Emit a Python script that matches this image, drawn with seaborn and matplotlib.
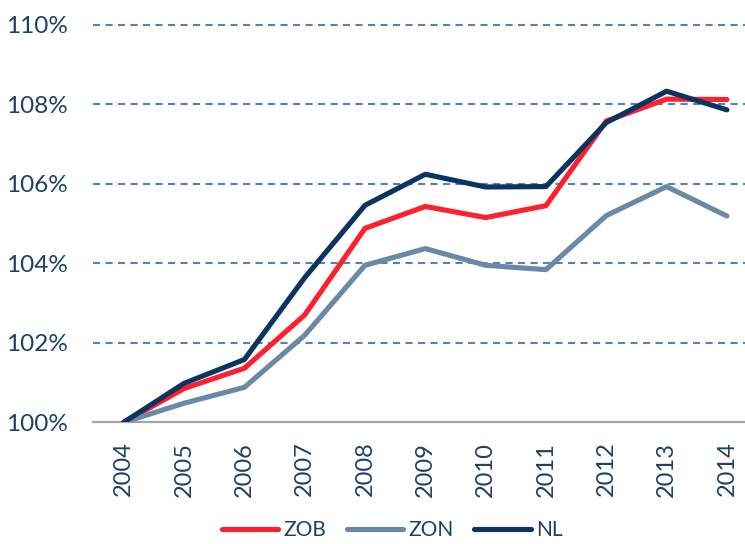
import matplotlib
matplotlib.use("Agg")
import matplotlib.pyplot as plt
import seaborn as sns
import pandas as pd
from matplotlib.ticker import FuncFormatter

years = [str(y) for y in range(2004, 2015)]
zob = [100.0, 100.85, 101.36, 102.7, 104.88, 105.43, 105.15, 105.45, 107.58, 108.13, 108.12]
zon = [100.0, 100.48, 100.88, 102.19, 103.95, 104.37, 103.95, 103.84, 105.2, 105.93, 105.19]
nl = [100.0, 100.98, 101.58, 103.64, 105.46, 106.24, 105.92, 105.93, 107.54, 108.33, 107.86]

series = {"ZOB": zob, "ZON": zon, "NL": nl}
colors = {"ZOB": "#FF1F2D", "ZON": "#6A89A6", "NL": "#0B3463"}
text_color = "#1F3F66"

df = pd.DataFrame([
    {"year": i, "label": y, "serie": name, "value": vals[i]}
    for name, vals in series.items()
    for i, y in enumerate(years)
])

sns.set_style("white")
plt.rcParams["font.family"] = ["Lato", "DejaVu Sans"]

fig = plt.figure(figsize=(7.45, 5.44), dpi=100)
ax = fig.add_axes([93 / 745, 121.7 / 544, (745 - 93) / 745, 397.5 / 544])

sns.lineplot(data=df, x="year", y="value", hue="serie", palette=colors,
             linewidth=3.7, ax=ax, legend=True, solid_capstyle="round")

ax.set_xlim(-0.51, 10.30)
ax.set_ylim(100, 110)
ax.set_yticks(range(100, 111, 2))
ax.yaxis.set_major_formatter(FuncFormatter(lambda v, p: f"{v:.0f}%"))
ax.set_xticks(range(len(years)))
ax.set_xticklabels(years, rotation=90)

ax.grid(axis="y", linestyle=(0, (3.4, 2.6)), color="#4F82C0", linewidth=1.5)
ax.grid(axis="x", visible=False)
gl = ax.yaxis.get_gridlines()
# 100% is drawn by the gray bottom spine instead
gl[0].set_visible(False)
for g in gl:
    g.set_clip_on(False)
for s in ["top", "right", "left"]:
    ax.spines[s].set_visible(False)
ax.spines["bottom"].set_color("#A6A6A6")
ax.spines["bottom"].set_linewidth(1.6)
ax.spines["bottom"].set_zorder(0.5)

ax.tick_params(axis="y", length=0, pad=18, labelsize=17.5, labelcolor=text_color)
ax.tick_params(axis="x", length=0, pad=14, labelsize=17, labelcolor=text_color)
ax.set_xlabel("")
ax.set_ylabel("")

handles, labels = ax.get_legend_handles_labels()
ax.legend(handles, labels, loc="center", bbox_to_anchor=(392 / 745, 14 / 544),
          bbox_transform=fig.transFigure, ncol=3, frameon=False,
          fontsize=15, handlelength=2.7, handletextpad=0.25, columnspacing=1.0,
          labelcolor=text_color)

fig.savefig("out.png", dpi=100)
